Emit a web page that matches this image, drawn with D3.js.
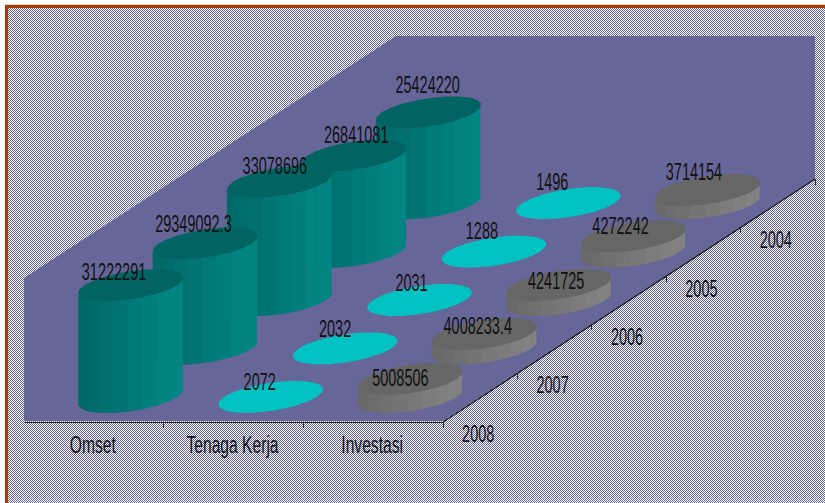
<!DOCTYPE html>
<html>
<head>
<meta charset="utf-8">
<script src="https://cdnjs.cloudflare.com/ajax/libs/d3/7.8.5/d3.min.js"></script>
<style>
html, body { margin: 0; padding: 0; background: #fff; }
svg { display: block; }
text { font-family: "Liberation Sans", sans-serif; font-size: 23px; fill: #111; }
</style>
</head>
<body>
<svg width="825" height="503" shape-rendering="crispEdges"></svg>
<script>
const categories = ["Omset", "Tenaga Kerja", "Investasi"];
const years = ["2008", "2007", "2006", "2005", "2004"];
const omset = [31222291, 29349092.3, 33078696, 26841081, 25424220];
const tenagaKerja = [2072, 2032, 2031, 1288, 1496];
const investasi = [5008506, 4008233.4, 4241725, 4272242, 3714154];

// label offsets from the top centre of each cylinder, placed by hand as in the original
const labelNudge = [
    [[-17, -5], [-12, -11], [-5, -8], [2, -13], [-1, -19]],
    [[-11, -7], [-10, -11], [-8, -9], [-12, -13], [-16, -13]],
    [[-10, 7], [-7, 0], [-3, 4], [-13, -2], [-14, -10]]
];

const series = [omset, tenagaKerja, investasi];

const svg = d3.select("svg");
const defs = svg.append("defs");

const floorX = 24, floorY = 421, floorW = 419;
const depthDx = 372, depthDy = -242, wallH = 143;

const x = d3.scaleBand().domain(categories).range([0, floorW]).paddingInner(0.336).paddingOuter(0.168);
const depth = d3.scaleBand().domain(years).range([0, 1]).paddingInner(0.336).paddingOuter(0.168);
const z = d3.scaleLinear().domain([0, 40000000]).range([0, wallH]);

// floor coordinates -> screen
function px(u, t) { return floorX + u + t * depthDx; }
function py(t, h) { return floorY + t * depthDy - h; }

// checker background
const pat = defs.append("pattern").attr("id", "checker")
    .attr("width", 2).attr("height", 2).attr("patternUnits", "userSpaceOnUse");
pat.append("rect").attr("width", 2).attr("height", 2).attr("fill", "#fff");
pat.append("rect").attr("width", 1).attr("height", 1).attr("fill", "#666699");
pat.append("rect").attr("x", 1).attr("y", 1).attr("width", 1).attr("height", 1).attr("fill", "#666699");

svg.append("rect").attr("x", 5).attr("y", 5).attr("width", 820).attr("height", 498).attr("fill", "url(#checker)");
svg.append("rect").attr("x", 5).attr("y", 4).attr("width", 820).attr("height", 1).attr("fill", "#e8cfc0");
svg.append("rect").attr("x", 5).attr("y", 5).attr("width", 820).attr("height", 3).attr("fill", "#a33a06");
svg.append("rect").attr("x", 5).attr("y", 5).attr("width", 3).attr("height", 498).attr("fill", "#a33a06");

// walls and floor
const walls = [
    [px(0, 0), py(0, 0)], [px(0, 0), py(0, wallH)], [px(0, 1), py(1, wallH)],
    [px(floorW, 1), py(1, wallH)], [px(floorW, 1), py(1, 0)], [px(floorW, 0), py(0, 0)]
];
svg.append("polygon").attr("points", walls.join(" ")).attr("fill", "#666699")
    .attr("shape-rendering", "auto");

// faint floor edges
svg.append("path").attr("fill", "none").attr("stroke", "#7272a3").attr("stroke-width", 1)
    .attr("stroke-dasharray", "1 2").attr("shape-rendering", "auto")
    .attr("d", d3.line()([[px(0, 0), py(0, 0)], [px(0, 1), py(1, 0)], [px(floorW, 1), py(1, 0)]]));

// columns, back to front
const sides = d3.range(0, 22);
const palettes = [
    { top: "#006462", dark: "#006866", light: "#008583" },
    { top: "#00c2c2", dark: "#00c2c2", light: "#00c2c2" },
    { top: "#666666", dark: "#686868", light: "#828282" }
];

function ringPoint(cx, t, a, h) {
    const ra = x.bandwidth() / 2, rd = depth.bandwidth() / 2;
    const u = cx + ra * Math.cos(a);
    const tt = t + rd * Math.sin(a);
    return [px(u, tt), py(tt, h)];
}

const tops = [];
years.slice().reverse().forEach(function(year) {
    const yi = years.indexOf(year);
    categories.forEach(function(cat, ci) {
        const cx = x(cat) + x.bandwidth() / 2;
        const t = depth(year) + depth.bandwidth() / 2;
        const h = z(series[ci][yi]);
        const pal = palettes[ci];
        const g = svg.append("g").attr("shape-rendering", "auto");
        const step = 2 * Math.PI / sides.length;
        const shade = d3.scaleLinear().domain([-1, 0.75]).range([pal.dark, pal.light]).clamp(true);

        if (h > 1) {
            g.selectAll("path.side").data(sides).enter().append("path")
                .attr("class", "side")
                .attr("d", function(s) {
                    const a0 = s * step, a1 = (s + 1) * step;
                    return d3.line()([ringPoint(cx, t, a0, 0), ringPoint(cx, t, a1, 0), ringPoint(cx, t, a1, h), ringPoint(cx, t, a0, h)]) + "Z";
                })
                .attr("fill", function(s) {
                    const a0 = s * step, a1 = (s + 1) * step;
                    const p0 = ringPoint(cx, t, a0, 0), p1 = ringPoint(cx, t, a1, 0);
                    const half = Math.hypot(x.bandwidth() / 2, depth.bandwidth() / 2 * depthDx);
                    const c = ((p0[0] + p1[0]) / 2 - px(cx, t)) / half;
                    return shade(c);
                })
                .attr("stroke", function() { return d3.select(this).attr("fill"); })
                .attr("stroke-width", 0.4)
                .attr("display", function(s) {
                    // only the facets that face the viewer
                    const a = (s + 0.5) * step;
                    return ringPoint(cx, t, a, 0)[1] > py(t, 0) - 6 ? null : "none";
                });
        }
        g.append("path")
            .attr("d", d3.line()(sides.map(s => ringPoint(cx, t, s * step, h))) + "Z")
            .attr("fill", pal.top);
        tops.push({ ci, yi, x: px(cx, t), y: py(t, h), v: series[ci][yi] });
    });
});

// axes
const axisG = svg.append("g").attr("transform", `translate(${floorX},${floorY + 1})`);
const catAxis = axisG.append("g").call(d3.axisBottom(x).tickSize(0).tickPadding(18));
catAxis.select(".domain").attr("stroke", "#222").attr("stroke-width", 1.5);
catAxis.selectAll("text")
    .attr("dy", null).attr("y", 31)
    .attr("transform", "translate(-1,0) scale(0.68,1)")
    .attr("fill", "#111").style("font-size", "23px").style("font-family", '"Liberation Sans", sans-serif');

const edges = d3.scaleLinear().domain([0, categories.length]).range([0, floorW]);
axisG.selectAll("line.edge").data(d3.range(1, categories.length + 1)).enter().append("line")
    .attr("class", "edge").attr("x1", edges).attr("x2", edges).attr("y1", 0).attr("y2", 6).attr("stroke", "#222");

// depth axis
const depthLine = [[px(floorW, 0), py(0, -1)], [px(floorW, 1), py(1, 0)]];
svg.append("path").attr("d", d3.line()(depthLine)).attr("stroke", "#111").attr("stroke-width", 1.2)
    .attr("fill", "none").attr("shape-rendering", "auto");
const ticks = d3.scaleLinear().domain([0, years.length]).range([0, 1]);
svg.selectAll("line.dtick").data(d3.range(0, years.length + 1)).enter().append("line")
    .attr("class", "dtick")
    .attr("x1", d => px(floorW, ticks(d))).attr("x2", d => px(floorW, ticks(d)))
    .attr("y1", d => py(ticks(d), 0)).attr("y2", d => py(ticks(d), 0) + 6)
    .attr("stroke", "#222");

svg.selectAll("text.year").data(years).enter().append("text")
    .attr("class", "year").attr("text-anchor", "middle")
    .attr("transform", function(d) {
        const t = depth(d) + depth.bandwidth() / 2;
        return `translate(${px(floorW, t) - 2},${py(t, 0) + 45}) scale(0.63,1)`;
    })
    .text(d => d);

// data labels
svg.selectAll("text.value").data(tops).enter().append("text")
    .attr("class", "value").attr("text-anchor", "middle")
    .attr("transform", function(d) {
        const n = labelNudge[d.ci][d.yi];
        return `translate(${d.x + n[0]},${d.y + n[1]}) scale(0.63,1)`;
    })
    .text(d => String(d.v));
</script>
</body>
</html>
